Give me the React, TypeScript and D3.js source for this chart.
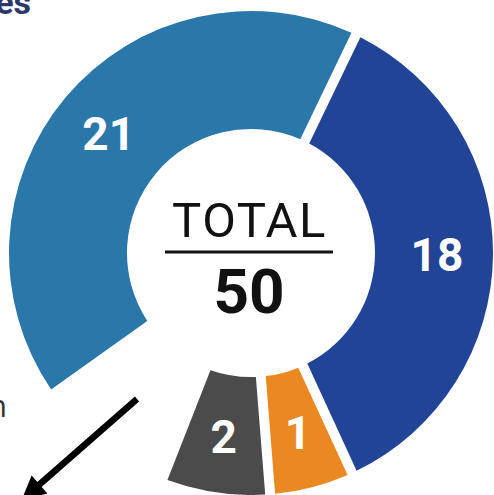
import React from 'react';
import * as d3 from 'd3';

// ---- data ----
const sliceLabels = ['21', '18', '1', '2'];
const sliceValues = [21, 18, 1, 2];
const totalValue = 50;
const centerTitle = 'TOTAL';
const titleTail = 'es';
const sideTextTail = 'n';

// ---- styles ----
const sliceColors = ['#2a77a9', '#224497', '#ea8921', '#4b4b4b'];
const W = 494;
const H = 495;
const cx = 251;
const cy = 253;
const innerR = 124;
const outerR = 242;
const labelR = 186;
const startDeg = -125.5;

// small slices are given a minimum visible size (layout rule)
const smallSliceScale = d3.scaleLinear().domain([1, 2]).range([2.8, 3.6]);
const displayValue = (v: number) => (v >= 5 ? v : smallSliceScale(v));

export default function App() {
  const toRad = (deg: number) => (deg * Math.PI) / 180;
  const angleScale = d3.scaleLinear().domain([0, totalValue]).range([0, 2 * Math.PI]);
  const sumDisplay = d3.sum(sliceValues, displayValue);
  const start = toRad(startDeg);
  const pie = d3
    .pie<number>()
    .sort(null)
    .value((d) => displayValue(d))
    .startAngle(start)
    .endAngle(start + angleScale(sumDisplay));
  const arcs = pie(sliceValues);
  const arc = d3
    .arc<d3.PieArcDatum<number>>()
    .innerRadius(innerR)
    .outerRadius(outerR)
    .padAngle(0.0365);
  const labelArc = d3
    .arc<d3.PieArcDatum<number>>()
    .innerRadius(labelR)
    .outerRadius(labelR);

  // arrow
  const a0: [number, number] = [137, 399];
  const a1: [number, number] = [32, 491];
  const len = Math.hypot(a1[0] - a0[0], a1[1] - a0[1]);
  const u = [(a1[0] - a0[0]) / len, (a1[1] - a0[1]) / len];
  const n = [-u[1], u[0]];
  const tip = [a1[0] + u[0] * 14, a1[1] + u[1] * 14];
  const base = [tip[0] - u[0] * 24, tip[1] - u[1] * 24];
  const head = [
    tip,
    [base[0] + n[0] * 12, base[1] + n[1] * 12],
    [base[0] - n[0] * 12, base[1] - n[1] * 12],
  ];

  return (
    <svg
      width={W}
      height={H}
      viewBox={`0 0 ${W} ${H}`}
      style={{ position: 'absolute', left: 0, top: 0, background: '#fff' }}
    >
      <text
        x={31}
        y={14}
        textAnchor="end"
        fontFamily="Roboto, sans-serif"
        fontWeight={700}
        fontSize={34}
        fill="#2c376b"
      >
        {titleTail}
      </text>
      <g transform={`translate(${cx},${cy})`}>
        {arcs.map((d, i) => (
          <path key={i} d={arc(d) || ''} fill={sliceColors[i]} />
        ))}
        {arcs.map((d, i) => {
          const [x, y] = labelArc.centroid(d);
          return (
            <text
              key={'l' + i}
              x={x}
              y={y}
              dy="0.355em"
              textAnchor="middle"
              fontFamily="Roboto, sans-serif"
              fontWeight={700}
              fontSize={46}
              fill="#fff"
            >
              {sliceLabels[i]}
            </text>
          );
        })}
      </g>
      <text
        x={249.5}
        y={237}
        textAnchor="middle"
        fontFamily="Roboto, sans-serif"
        fontWeight={400}
        fontSize={49}
        letterSpacing={1.5}
        fill="#111"
      >
        {centerTitle}
      </text>
      <line x1={165} x2={333} y1={252} y2={252} stroke="#111" strokeWidth={3} />
      <text
        x={249}
        y={313}
        textAnchor="middle"
        fontFamily="Roboto, sans-serif"
        fontWeight={700}
        fontSize={62}
        fill="#111"
      >
        {totalValue}
      </text>
      <text
        x={7}
        y={417}
        textAnchor="end"
        fontFamily="'Open Sans', sans-serif"
        fontWeight={400}
        fontSize={31}
        fill="#333"
      >
        {sideTextTail}
      </text>
      <line x1={a0[0]} y1={a0[1]} x2={a1[0]} y2={a1[1]} stroke="#000" strokeWidth={6.5} />
      <polygon points={head.map((p) => p.join(',')).join(' ')} fill="#000" />
    </svg>
  );
}
